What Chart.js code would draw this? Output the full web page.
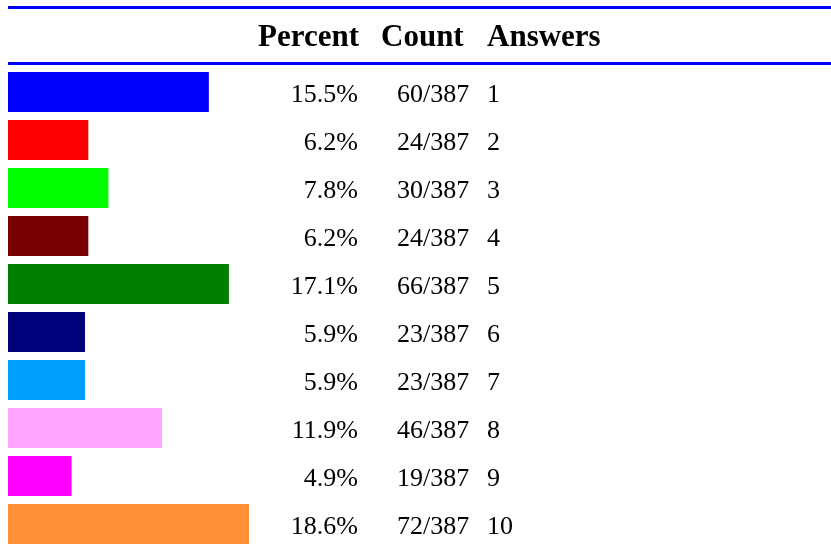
<!DOCTYPE html>
<html>
<head>
<meta charset="utf-8">
<script src="https://cdn.jsdelivr.net/npm/chart.js@4"></script>
<style>
  html, body { margin: 0; padding: 0; background: #fff; }
  #wrap { width: 831px; height: 551px; }
</style>
</head>
<body>
<div id="wrap"><canvas id="chart" width="831" height="551"></canvas></div>
<script>
// 数据
const answers = ['1', '2', '3', '4', '5', '6', '7', '8', '9', '10'];
const counts = [60, 24, 30, 24, 66, 23, 23, 46, 19, 72];
const percents = ['15.5%', '6.2%', '7.8%', '6.2%', '17.1%', '5.9%', '5.9%', '11.9%', '4.9%', '18.6%'];
const total = 387;
const headers = ['Percent', 'Count', 'Answers'];
const barColors = ['#0000ff', '#ff0000', '#00ff00', '#780000', '#008000',
                   '#00007a', '#00a0ff', '#ffa4ff', '#ff00ff', '#ff9036'];

// 表头 + 蓝线 + 每行文字
const tablePlugin = {
  id: 'tableText',
  afterDraw(chart) {
    const ctx = chart.ctx;
    const yScale = chart.scales.y;
    ctx.save();
    // 蓝色分隔线
    ctx.fillStyle = '#0000ff';
    ctx.fillRect(8, 6, 823, 3);
    ctx.fillRect(8, 62, 823, 3);

    // 表头
    ctx.fillStyle = '#000';
    ctx.font = 'bold 31px "Liberation Serif", "Times New Roman", serif';
    ctx.textBaseline = 'alphabetic';
    ctx.textAlign = 'left';
    const hx = [258, 381, 487];
    headers.forEach((h, i) => ctx.fillText(h, hx[i], 46));

    // 行文字
    ctx.font = '26px "Liberation Serif", "Times New Roman", serif';
    answers.forEach((a, i) => {
      const y = yScale.getPixelForValue(i) + 9.5;
      ctx.textAlign = 'right';
      ctx.fillText(percents[i], 358, y);
      ctx.textAlign = 'left';
      ctx.fillText(counts[i] + '/' + total, 397, y);
      ctx.fillText(a, 487, y);
    });
    ctx.restore();
  }
};

new Chart(document.getElementById('chart'), {
  type: 'bar',
  data: {
    labels: answers,
    datasets: [{
      data: counts,
      backgroundColor: barColors,
      borderWidth: 0,
      barPercentage: 1,
      categoryPercentage: 40 / 48
    }]
  },
  options: {
    indexAxis: 'y',
    responsive: false,
    animation: false,
    layout: { padding: { left: 8, right: 582, top: 68, bottom: 3 } },
    plugins: { legend: { display: false }, tooltip: { enabled: false } },
    scales: {
      x: { display: false, min: 0, max: 72 },
      y: { display: false }
    }
  },
  plugins: [tablePlugin]
});
</script>
</body>
</html>
